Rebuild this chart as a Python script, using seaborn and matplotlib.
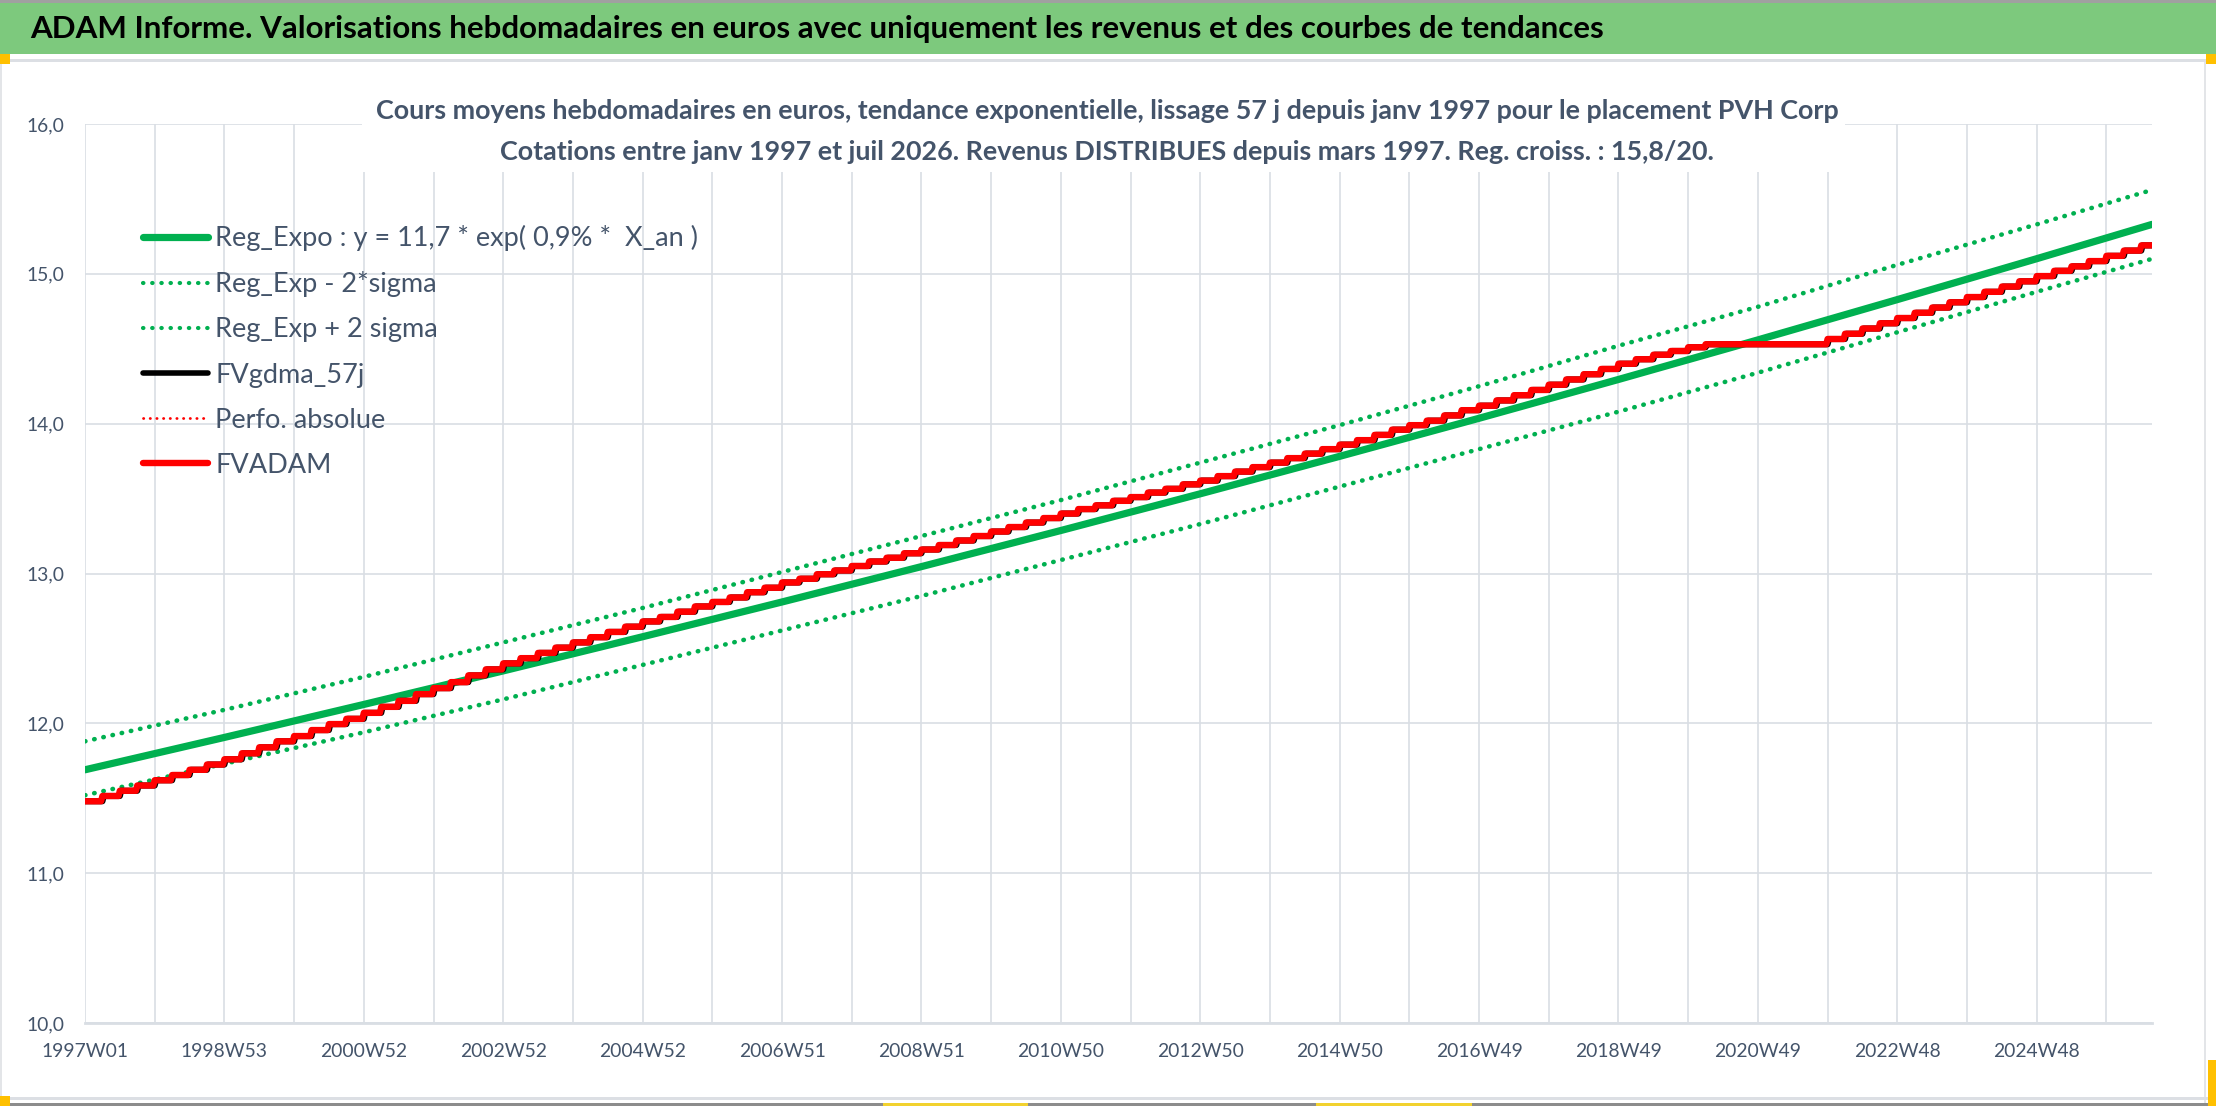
import numpy as np
import matplotlib
matplotlib.use("Agg")
import matplotlib.pyplot as plt
import seaborn as sns
from matplotlib import font_manager as fm
from matplotlib.textpath import TextPath
from matplotlib.lines import Line2D
from matplotlib.patches import Rectangle
from matplotlib.ticker import FixedLocator, FuncFormatter

# ---------------- data ----------------
title = "ADAM Informe. Valorisations hebdomadaires en euros avec uniquement les revenus et des courbes de tendances"
subtitle1 = "Cours moyens hebdomadaires en euros, tendance exponentielle, lissage 57 j depuis janv 1997 pour le placement PVH Corp"
subtitle2 = "Cotations entre janv 1997 et juil 2026. Revenus DISTRIBUES depuis mars 1997. Reg. croiss. : 15,8/20."

n_weeks = 1543
tick_labels = ["1997W01", "1998W53", "2000W52", "2002W52", "2004W52", "2006W51", "2008W51",
               "2010W50", "2012W50", "2014W50", "2016W49", "2018W49", "2020W49", "2022W48", "2024W48"]

reg_weeks = [0, 104, 208, 312, 416, 520, 624, 728, 832, 936, 1040, 1144, 1248, 1352, 1456, 1542]
reg_expo = [11.69, 11.906, 12.126, 12.35, 12.578, 12.81, 13.046, 13.287, 13.532, 13.782,
            14.036, 14.295, 14.559, 14.828, 15.101, 15.33]
reg_minus = [11.52, 11.73, 11.94, 12.16, 12.39, 12.62, 12.85, 13.09, 13.33, 13.58,
             13.83, 14.08, 14.34, 14.61, 14.88, 15.10]
reg_plus = [11.88, 12.09, 12.31, 12.54, 12.77, 13.01, 13.25, 13.49, 13.74, 13.99,
            14.25, 14.52, 14.78, 15.06, 15.33, 15.56]

weeks_per_quarter = 13
fvadam_quarterly = [
    11.48, 11.515, 11.55, 11.585, 11.62, 11.655, 11.69, 11.725,
    11.76, 11.80, 11.84, 11.88, 11.915, 11.955, 11.995, 12.03,
    12.07, 12.11, 12.15, 12.195, 12.235, 12.275, 12.32, 12.36,
    12.40, 12.435, 12.47, 12.505, 12.54, 12.575, 12.61, 12.645,
    12.68, 12.71, 12.745, 12.78, 12.81, 12.84, 12.875, 12.905,
    12.94, 12.965, 12.995, 13.02, 13.05, 13.08, 13.105, 13.135,
    13.16, 13.19, 13.22, 13.25, 13.28, 13.31, 13.34, 13.37,
    13.40, 13.43, 13.455, 13.485, 13.51, 13.54, 13.565, 13.595,
    13.62, 13.65, 13.68, 13.71, 13.74, 13.77, 13.80, 13.83,
    13.86, 13.89, 13.925, 13.96, 13.99, 14.02, 14.055, 14.09,
    14.12, 14.155, 14.19, 14.225, 14.26, 14.295, 14.33, 14.365,
    14.40, 14.43, 14.46, 14.485, 14.51,
    14.53, 14.53, 14.53, 14.53, 14.53, 14.53, 14.53,
    14.565, 14.60, 14.635, 14.67, 14.705, 14.74, 14.775, 14.81, 14.845, 14.88,
    14.915, 14.95, 14.985, 15.02, 15.05, 15.085, 15.12, 15.155, 15.19,
]

legend_labels = ["Reg_Expo : y = 11,7 * exp( 0,9% *  X_an )", "Reg_Exp - 2*sigma",
                 "Reg_Exp + 2 sigma", "FVgdma_57j", "Perfo. absolue", "FVADAM"]

# ---------------- styling ----------------
W, H, DPI = 2216, 1106, 100
GREEN = "#00B050"
RED = "#FF0000"
TXT = "#44546A"
GRID = "#D9DEE4"

sns.set_style("white")
available = {f.name for f in fm.fontManager.ttflist}


def pick(*names):
    for n in names:
        if n in available:
            return n
    return "DejaVu Sans"


FONT = pick("Liberation Sans Narrow", "DejaVu Sans Condensed", "Lato", "Roboto", "Open Sans")
plt.rcParams["font.family"] = [FONT, "DejaVu Sans"]


def fit_size(s, target_px, weight="normal"):
    fp = fm.FontProperties(family=FONT, weight=weight, size=10)
    w = TextPath((0, 0), s, prop=fp).get_extents().width
    return 10 * target_px / (w * DPI / 72)


def fx(px):
    return px / W


def fy(py):
    return 1 - py / H


fig = plt.figure(figsize=(W / DPI, H / DPI), dpi=DPI)
fig.patch.set_facecolor("white")


def rect(x0, y0, x1, y1, color, z=1):
    fig.add_artist(Rectangle((fx(x0), fy(y1)), fx(x1) - fx(x0), fy(y0) - fy(y1),
                             transform=fig.transFigure, facecolor=color,
                             edgecolor="none", zorder=z))


# frame decorations
rect(0, 0, W, 3, "#A0A0A0")
rect(0, 3, W, 54, "#7DC97D")
rect(0, 59, W, 62, "#DCDFE4")
rect(0, 62, 2, H, "#E3E5E8")
rect(2204, 62, 2206, H, "#E3E5E8")
rect(0, 1097, W, 1100, "#DCDFE4")
rect(0, 1103, W, H, "#8C8C8C")
rect(0, 54, 10, 64, "#FFC000", 3)
rect(0, 1096, 10, H, "#FFC000", 3)
rect(2206, 54, W, 64, "#FFC000", 3)
rect(2208, 1060, W, H, "#FFC000", 3)
rect(883, 1103, 1028, H, "#F2D22E", 3)
rect(1316, 1103, 1472, H, "#F2D22E", 3)

# main title
fs_title = fit_size(title, 1573, "bold")
fig.text(fx(30), fy(29), title, ha="left", va="center", fontsize=fs_title,
         fontweight="bold", color="black", zorder=4)

# axes
L, R, T, B = 85, 2152, 124, 1023
ax = fig.add_axes([fx(L), fy(B), fx(R) - fx(L), (B - T) / H])
ax.set_facecolor("white")

weeks = np.arange(n_weeks)
red = np.repeat(np.array(fvadam_quarterly), weeks_per_quarter)[:n_weeks]
black = np.concatenate([np.repeat(fvadam_quarterly[0], 1), red[:-1]])

dot = (0, (0.1, 1.95))
sns.lineplot(x=reg_weeks, y=reg_expo, ax=ax, color=GREEN, linewidth=5.2,
             estimator=None, sort=False, solid_capstyle="round", zorder=3)
sns.lineplot(x=reg_weeks, y=reg_minus, ax=ax, color=GREEN, linewidth=3.3,
             linestyle=dot, dash_capstyle="round",
             estimator=None, sort=False, zorder=3)
sns.lineplot(x=reg_weeks, y=reg_plus, ax=ax, color=GREEN, linewidth=3.3,
             linestyle=dot, dash_capstyle="round",
             estimator=None, sort=False, zorder=3)
sns.lineplot(x=weeks, y=black, ax=ax, color="black", linewidth=4.4,
             estimator=None, sort=False, zorder=4)
sns.lineplot(x=weeks, y=red, ax=ax, color=RED, linewidth=4.6,
             estimator=None, sort=False, zorder=5)

ax.set_xlim(0, n_weeks - 1)
ax.set_ylim(10, 16)
ax.set_xlabel("")
ax.set_ylabel("")

xt = list(range(0, n_weeks, 52))
ax.xaxis.set_major_locator(FixedLocator(xt))
lab_iter = iter(tick_labels)
ax.set_xticklabels([next(lab_iter) if (i % 2 == 0) else "" for i in range(len(xt))])
ax.set_yticks(range(10, 17))
ax.yaxis.set_major_formatter(FuncFormatter(lambda v, p: f"{v:.1f}".replace(".", ",")))

ax.grid(True, color=GRID, linewidth=1.2)
ax.set_axisbelow(True)
for s in ["top", "right", "left"]:
    ax.spines[s].set_visible(False)
ax.spines["bottom"].set_color(GRID)
ax.spines["bottom"].set_linewidth(2.0)

fs_tick = fit_size("1997W01", 84)
ax.tick_params(axis="x", length=8.6, width=1.2, color=GRID, pad=6,
               labelsize=fs_tick, labelcolor=TXT)
ax.tick_params(axis="y", length=0, pad=15, labelsize=fs_tick, labelcolor=TXT)

# white box behind the chart title (hides gridlines as in reference)
rect(362, 64, 1845, 172, "white", 2)
fs_sub = fit_size(subtitle1, 1462, "bold")
fig.text(fx(1107), fy(111), subtitle1, ha="center", va="center", fontsize=fs_sub,
         fontweight="bold", color=TXT, zorder=4)
fig.text(fx(1107), fy(152), subtitle2, ha="center", va="center", fontsize=fs_sub,
         fontweight="bold", color=TXT, zorder=4)

# legend
fs_leg = fit_size("Reg_Exp - 2*sigma", 217)
fs_px = fs_leg * DPI / 72
handles = [
    Line2D([], [], color=GREEN, lw=5.2, solid_capstyle="round"),
    Line2D([], [], color=GREEN, lw=3.0, linestyle=(0, (0.1, 2.1)), dash_capstyle="round"),
    Line2D([], [], color=GREEN, lw=3.0, linestyle=(0, (0.1, 2.1)), dash_capstyle="round"),
    Line2D([], [], color="black", lw=4.0, solid_capstyle="round"),
    Line2D([], [], color=RED, lw=2.0, linestyle=(0, (0.1, 2.3)), dash_capstyle="round"),
    Line2D([], [], color=RED, lw=4.6, solid_capstyle="round"),
]
leg = fig.legend(handles, legend_labels, loc="upper left",
                 bbox_to_anchor=(fx(143), fy(238 - 0.47 * fs_px)),
                 frameon=False, fontsize=fs_leg, labelcolor=TXT,
                 handlelength=65 / fs_px, handletextpad=7 / fs_px,
                 labelspacing=(45.5 - 0.94 * fs_px) / fs_px,
                 borderpad=0, borderaxespad=0)
leg.set_zorder(6)

fig.savefig("out.png", dpi=DPI, facecolor="white")
